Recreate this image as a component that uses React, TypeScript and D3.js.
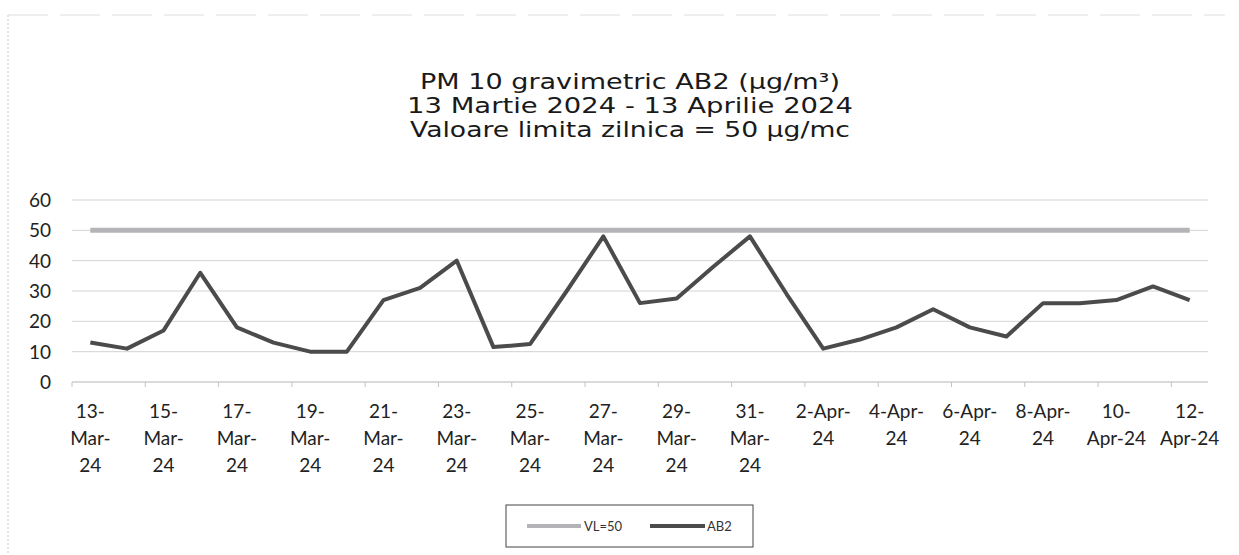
import React from 'react';
import * as d3 from 'd3';

// chart data
const dates = [
  '13-Mar-24', '14-Mar-24', '15-Mar-24', '16-Mar-24', '17-Mar-24', '18-Mar-24', '19-Mar-24',
  '20-Mar-24', '21-Mar-24', '22-Mar-24', '23-Mar-24', '24-Mar-24', '25-Mar-24', '26-Mar-24',
  '27-Mar-24', '28-Mar-24', '29-Mar-24', '30-Mar-24', '31-Mar-24', '1-Apr-24', '2-Apr-24',
  '3-Apr-24', '4-Apr-24', '5-Apr-24', '6-Apr-24', '7-Apr-24', '8-Apr-24', '9-Apr-24',
  '10-Apr-24', '11-Apr-24', '12-Apr-24',
];
const ab2Values = [
  13, 11, 17, 36, 18, 13, 10, 10, 27, 31, 40, 11.5, 12.5, 30, 48, 26, 27.5, 38, 48, 29,
  11, 14, 18, 24, 18, 15, 26, 26, 27, 31.5, 27,
];
const limitValue = 50;
const yTicks = [0, 10, 20, 30, 40, 50, 60];
// wrapped tick labels, shown on every second day
const tickLabels: string[][] = [
  ['13-', 'Mar-', '24'], ['15-', 'Mar-', '24'], ['17-', 'Mar-', '24'], ['19-', 'Mar-', '24'],
  ['21-', 'Mar-', '24'], ['23-', 'Mar-', '24'], ['25-', 'Mar-', '24'], ['27-', 'Mar-', '24'],
  ['29-', 'Mar-', '24'], ['31-', 'Mar-', '24'], ['2-Apr-', '24'], ['4-Apr-', '24'],
  ['6-Apr-', '24'], ['8-Apr-', '24'], ['10-', 'Apr-24'], ['12-', 'Apr-24'],
];
const titleLines = [
  'PM 10 gravimetric AB2 (µg/m³)',
  '13 Martie 2024 - 13 Aprilie 2024',
  'Valoare limita zilnica = 50 µg/mc',
];
// the scan is a bit stretched sideways, so the title is fitted to these widths
const titleWidths = [420, 446, 440];

const W = 1239;
const H = 555;
const plot = { left: 72, right: 1208, top: 200, bottom: 382 };

export default function App() {
  const x = d3.scalePoint<string>().domain(dates).range([plot.left, plot.right]).padding(0.5);
  const y = d3.scaleLinear().domain([0, 60]).range([plot.bottom, plot.top]);
  const step = x.step();

  const line = d3
    .line<number>()
    .x((_, i) => x(dates[i]) as number)
    .y((d) => y(d));

  const limitLine = d3
    .line<string>()
    .x((d) => x(d) as number)
    .y(() => y(limitValue));

  const labelFont = 'Lato, "Open Sans", sans-serif';

  return (
    <svg
      width={W}
      height={H}
      style={{ position: 'absolute', left: 0, top: 0, background: '#fff' }}
    >
      {/* faint scanned border */}
      <line x1={8} x2={8} y1={15} y2={H} stroke="#c8c8c8" strokeDasharray="2 2" />
      <line x1={8} x2={1225} y1={15} y2={15} stroke="#dedede" strokeDasharray="40 12" />

      {/* title */}
      {titleLines.map((t, i) => (
        <text
          key={t}
          x={630}
          y={89 + i * 24}
          textAnchor="middle"
          fontFamily='"DejaVu Sans", sans-serif'
          fontSize={22}
          textLength={titleWidths[i]}
          lengthAdjust="spacingAndGlyphs"
          fill="#1a1a1a"
        >
          {t}
        </text>
      ))}

      {/* gridlines + y labels */}
      {yTicks.map((t) => (
        <g key={t}>
          {t > 0 && (
            <line
              x1={plot.left}
              x2={plot.right}
              y1={y(t)}
              y2={y(t)}
              stroke="#d4d4d4"
              strokeWidth={1}
            />
          )}
          <text
            x={51}
            y={y(t)}
            dy="0.36em"
            textAnchor="end"
            fontFamily={labelFont}
            fontSize={19}
            fill="#222"
          >
            {t}
          </text>
        </g>
      ))}

      {/* x axis */}
      <line x1={plot.left} x2={plot.right} y1={y(0)} y2={y(0)} stroke="#b5b5b5" />
      {dates.map((d, i) =>
        i % 2 === 0 ? (
          <line
            key={d}
            x1={(x(d) as number) - step / 2}
            x2={(x(d) as number) - step / 2}
            y1={y(0)}
            y2={y(0) + 5}
            stroke="#c4c4c4"
          />
        ) : null
      )}
      {tickLabels.map((lines, k) => {
        const cx = x(dates[k * 2]) as number;
        return (
          <text
            key={k}
            x={cx}
            y={418}
            textAnchor="middle"
            fontFamily={labelFont}
            fontSize={19}
            fill="#222"
          >
            {lines.map((l, j) => (
              <tspan key={j} x={cx} dy={j === 0 ? 0 : 27}>
                {l}
              </tspan>
            ))}
          </text>
        );
      })}

      {/* series */}
      <path d={limitLine(dates) ?? ''} fill="none" stroke="#b4b4b8" strokeWidth={5} />
      <path
        d={line(ab2Values) ?? ''}
        fill="none"
        stroke="#4b4b4b"
        strokeWidth={4}
        strokeLinejoin="round"
      />

      {/* legend */}
      <rect x={506} y={505} width={247} height={42} fill="#fff" stroke="#444" strokeWidth={1} />
      <line x1={527} x2={581} y1={526} y2={526} stroke="#b4b4b8" strokeWidth={4} />
      <text x={584} y={526} dy="0.35em" fontFamily={labelFont} fontSize={13} fill="#333">
        VL=50
      </text>
      <line x1={650} x2={705} y1={526} y2={526} stroke="#4b4b4b" strokeWidth={4} />
      <text x={707} y={526} dy="0.35em" fontFamily={labelFont} fontSize={13} fill="#333">
        AB2
      </text>
    </svg>
  );
}
